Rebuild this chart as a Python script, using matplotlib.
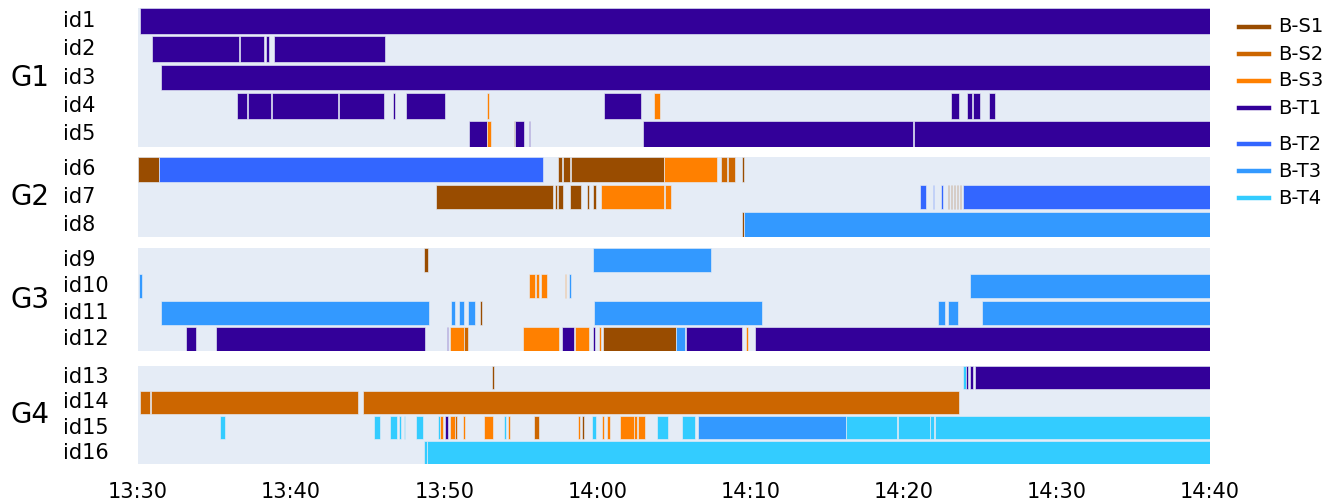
import matplotlib
matplotlib.use("Agg")
import matplotlib.pyplot as plt
from matplotlib.lines import Line2D
from matplotlib.transforms import blended_transform_factory

plt.rcParams['font.family'] = ['DejaVu Sans']

# ---------------- data ----------------
STATES = ["B-S1", "B-S2", "B-S3", "B-T1", "B-T2", "B-T3", "B-T4"]
COLORS = ["#994C00", "#CC6600", "#FF8000", "#330099", "#3366FF", "#3399FF", "#33CCFF"]
GROUPS = ["G1", "G2", "G3", "G4"]
GROUP_IDS = [["id1", "id2", "id3", "id4", "id5"],
             ["id6", "id7", "id8"],
             ["id9", "id10", "id11", "id12"],
             ["id13", "id14", "id15", "id16"]]
TICK_MINUTES = [0, 10, 20, 30, 40, 50, 60, 70]   # minutes after 13:30
TICK_LABELS = ["13:30", "13:40", "13:50", "14:00", "14:10", "14:20", "14:30", "14:40"]

# segments: (start minute after 13:30, end minute, state)
id1 = [(0.1, 70, "B-T1")]
id2 = [(0.9, 6.6, "B-T1"), (6.65, 8.2, "B-T1"), (8.35, 8.55, "B-T1"), (8.9, 16.1, "B-T1")]
id3 = [(1.5, 70, "B-T1")]
id4 = [(6.45, 7.1, "B-T1"), (7.2, 8.7, "B-T1"), (8.72, 13.07, "B-T1"), (13.1, 16.05, "B-T1"),
       (16.67, 16.78, "B-T1"), (17.53, 20.05, "B-T1"), (22.82, 22.95, "B-S3"),
       (30.46, 32.84, "B-T1"), (33.72, 34.06, "B-S3"), (53.07, 53.61, "B-T1"),
       (54.13, 54.45, "B-T1"), (54.5, 54.96, "B-T1"), (55.6, 55.99, "B-T1")]
id5 = [(21.63, 22.76, "B-T1"), (22.76, 23.02, "B-S3"), (24.55, 24.62, "B-S1"),
       (24.62, 25.23, "B-T1"), (25.5, 25.6, "B-T1"), (32.96, 50.58, "B-T1"), (50.69, 70, "B-T1")]
id6 = [(0, 1.36, "B-S1"), (1.36, 26.42, "B-T2"), (27.44, 27.7, "B-S1"), (27.75, 28.2, "B-S1"),
       (28.25, 34.35, "B-S1"), (34.35, 37.84, "B-S3"), (38.08, 38.48, "B-S2"),
       (38.55, 39.01, "B-S2"), (39.43, 39.54, "B-S1")]
id7 = [(19.49, 27.1, "B-S1"), (27.21, 27.37, "B-S1"), (27.44, 27.75, "B-S1"), (28.2, 28.95, "B-S1"),
       (29.33, 29.46, "B-S1"), (29.74, 29.88, "B-S1"), (30.25, 34.35, "B-S3"), (34.4, 34.8, "B-S3"),
       (51.04, 51.44, "B-T2"), (51.9, 52.0, "B-T2"), (52.45, 52.55, "B-T2"),
       (52.86, 52.96, "B-S1"), (53.06, 53.16, "B-S1"), (53.26, 53.36, "B-S1"),
       (53.46, 53.56, "B-S1"), (53.66, 53.76, "B-S1"), (53.89, 70, "B-T2")]
id8 = [(39.45, 39.55, "B-S1"), (39.55, 70, "B-T3")]
id9 = [(18.7, 18.95, "B-S1"), (29.74, 37.42, "B-T3")]
id10 = [(0.05, 0.23, "B-T3"), (25.5, 25.9, "B-S3"), (25.97, 26.2, "B-S3"), (26.31, 26.7, "B-S3"),
        (27.87, 27.98, "B-S3"), (28.16, 28.29, "B-T3"), (54.31, 70, "B-T3")]
id11 = [(1.52, 18.99, "B-T3"), (20.44, 20.73, "B-T3"), (20.95, 21.29, "B-T3"), (21.52, 22.0, "B-T3"),
        (22.3, 22.49, "B-S1"), (29.8, 40.77, "B-T3"), (52.21, 52.72, "B-T3"),
        (52.91, 53.56, "B-T3"), (55.13, 70, "B-T3")]
id12 = [(3.16, 3.79, "B-T1"), (5.07, 18.77, "B-T1"), (20.16, 20.27, "B-T1"), (20.39, 21.29, "B-S3"),
        (21.29, 21.56, "B-S2"), (25.12, 27.48, "B-S3"), (27.71, 28.49, "B-T1"), (28.54, 29.46, "B-S3"),
        (29.74, 29.85, "B-T1"), (30.07, 30.22, "B-S3"), (30.35, 35.16, "B-S1"), (35.16, 35.7, "B-T3"),
        (35.81, 39.43, "B-T1"), (39.71, 39.86, "B-S3"), (40.29, 70, "B-T1")]
id13 = [(23.1, 23.22, "B-S1"), (53.89, 54.08, "B-T4"), (54.08, 54.19, "B-T1"),
        (54.31, 54.5, "B-T1"), (54.66, 70, "B-T1")]
id14 = [(0.16, 0.78, "B-S2"), (0.85, 14.36, "B-S2"), (14.69, 53.61, "B-S2")]
id15 = [(5.37, 5.66, "B-T4"), (15.43, 15.81, "B-T4"), (16.45, 16.9, "B-T4"), (17.06, 17.17, "B-T4"),
        (17.35, 17.46, "B-T4"), (18.14, 18.63, "B-T4"), (19.6, 19.72, "B-T4"), (19.72, 19.94, "B-S3"),
        (20.05, 20.21, "B-T1"), (20.39, 20.73, "B-S3"), (20.73, 20.84, "B-S2"), (21.22, 21.34, "B-S3"),
        (22.6, 23.2, "B-S3"), (23.88, 24.0, "B-T4"), (24.15, 24.27, "B-S3"), (25.84, 26.17, "B-S2"),
        (28.73, 28.88, "B-S3"), (28.99, 29.13, "B-S1"), (29.62, 29.9, "B-T4"), (30.3, 30.41, "B-S3"),
        (30.64, 30.79, "B-S3"), (31.49, 32.37, "B-S3"), (32.41, 32.6, "B-S3"), (32.66, 33.11, "B-S3"),
        (33.86, 34.62, "B-T4"), (35.51, 36.37, "B-T4"), (36.56, 46.21, "B-T3"), (46.21, 49.58, "B-T4"),
        (49.64, 51.7, "B-T4"), (51.74, 51.95, "B-T4"), (52.02, 70, "B-T4")]
id16 = [(18.7, 18.86, "B-T4"), (18.86, 70, "B-T4")]

SEGMENTS = {"id1": id1, "id2": id2, "id3": id3, "id4": id4, "id5": id5, "id6": id6, "id7": id7,
            "id8": id8, "id9": id9, "id10": id10, "id11": id11, "id12": id12, "id13": id13,
            "id14": id14, "id15": id15, "id16": id16}

# ---------------- layout ----------------
W, H = 1341, 500
fig = plt.figure(figsize=(W / 100, H / 100), dpi=100)
BG = "#E5ECF6"
color_of = dict(zip(STATES, COLORS))

# panel pixel extents (top, bottom)
panels_px = [(8, 147), (157, 237), (248, 351), (366, 464)]
left_px, right_px = 138, 1210

for gi, (gname, ids) in enumerate(zip(GROUPS, GROUP_IDS)):
    top, bot = panels_px[gi]
    ax = fig.add_axes([left_px / W, 1 - bot / H, (right_px - left_px) / W, (bot - top) / H])
    ax.set_facecolor(BG)
    for s in ax.spines.values():
        s.set_visible(False)
    n = len(ids)
    for ri, rid in enumerate(ids):
        for (a, b, st) in SEGMENTS[rid]:
            ax.barh(ri, b - a, left=a, height=0.9, color=color_of[st],
                    edgecolor=BG, linewidth=0.45)
    ax.set_xlim(0, 70)
    ax.set_ylim(n - 1 + 0.45, -0.45)
    ax.set_yticks([])
    ax.set_xticks(TICK_MINUTES)
    if gi == len(GROUPS) - 1:
        ax.set_xticklabels(TICK_LABELS, fontsize=15)
        ax.tick_params(axis="x", length=0, pad=13, colors="#000000")
    else:
        ax.tick_params(axis="x", length=0, labelbottom=False)
    tr = blended_transform_factory(fig.transFigure, ax.transData)
    for ri, rid in enumerate(ids):
        ax.text(63 / W, ri, rid, transform=tr, ha="left", va="center", fontsize=15, color="#000000")
    tr2 = blended_transform_factory(fig.transFigure, ax.transAxes)
    ax.text(10 / W, 0.5, gname, transform=tr2, ha="left", va="center", fontsize=20, color="#000000")

# legend (two groups with gap)
legend_y_px = [27, 54, 81, 108, 144, 171, 198]
for st, col, ypx in zip(STATES, COLORS, legend_y_px):
    y = 1 - ypx / H
    fig.add_artist(Line2D([1239 / W, 1269 / W], [y, y], color=col, linewidth=3.2,
                          transform=fig.transFigure))
    fig.text(1278 / W, y, st, ha="left", va="center", fontsize=14, color="#000000")

fig.savefig("out.png", dpi=100, facecolor="white")
